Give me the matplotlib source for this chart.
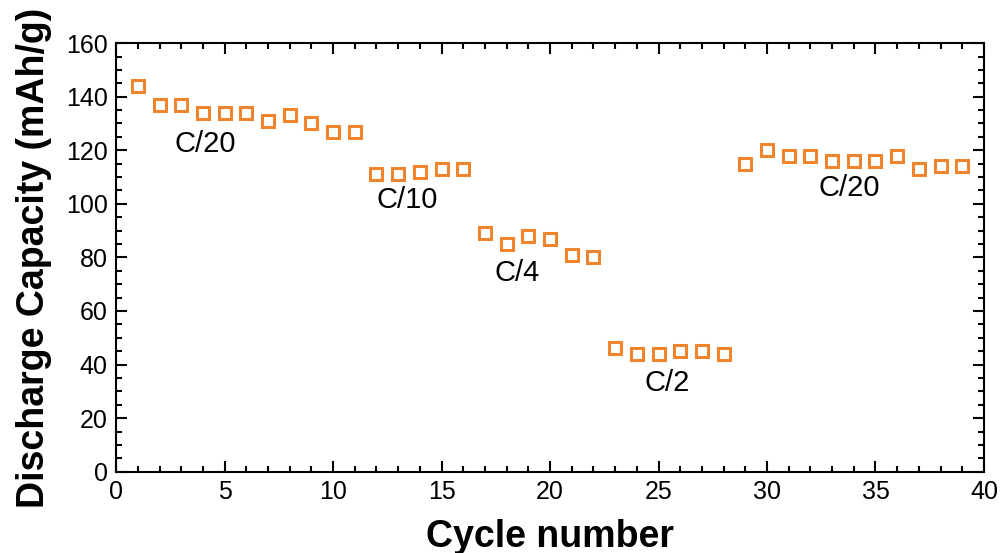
import numpy as np
import matplotlib.pyplot as plt
from matplotlib.ticker import MultipleLocator

plt.rcParams['font.family'] = ['Liberation Sans', 'DejaVu Sans']

# Data
cycles = list(range(1, 40))
capacity = [144, 137, 137, 134, 134, 134, 131, 133, 130, 127, 127,
            111, 111, 112, 113, 113,
            89, 85, 88, 87, 81, 80,
            46, 44, 44, 45, 45, 44,
            115, 120, 118, 118, 116, 116, 116, 118, 113, 114, 114]

rate_labels = ["C/20", "C/10", "C/4", "C/2", "C/20"]
label_x = [4.1, 13.4, 18.5, 25.4, 33.8]
label_y = [122.5, 101.5, 74, 33, 106]

fig = plt.figure(figsize=(10.01, 5.53), dpi=100)
ax = fig.add_axes([0.116, 0.147, 0.867, 0.775])

ax.plot(cycles, capacity, 's', ms=9, mfc='none', mec='#f0852d', mew=2.2)

for t, x, y in zip(rate_labels, label_x, label_y):
    ax.text(x, y, t, fontsize=21, ha='center', va='center')

ax.set_xlim(0, 40)
ax.set_ylim(0, 160)
ax.xaxis.set_major_locator(MultipleLocator(5))
ax.xaxis.set_minor_locator(MultipleLocator(1))
ax.yaxis.set_major_locator(MultipleLocator(20))
ax.yaxis.set_minor_locator(MultipleLocator(5))
ax.tick_params(which='both', direction='in', top=True, right=True, width=1.5)
ax.tick_params(which='major', length=8, labelsize=18, pad=6)
ax.tick_params(which='minor', length=4)
for s in ax.spines.values():
    s.set_linewidth(1.5)

ax.set_xlabel("Cycle number", fontsize=27, fontweight='bold', labelpad=11)
ax.set_ylabel("Discharge Capacity (mAh/g)", fontsize=27, fontweight='bold', labelpad=10)

plt.savefig("out.png", dpi=100)
